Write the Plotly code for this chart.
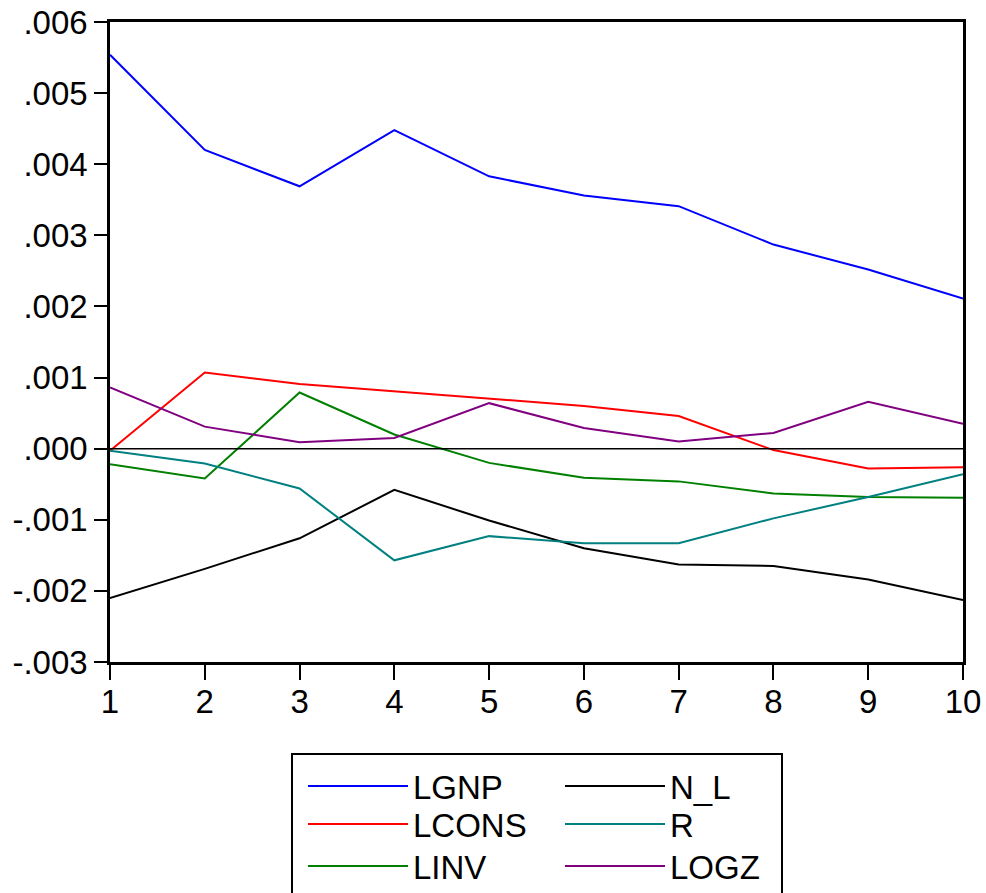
import plotly.graph_objects as go

periods = [1, 2, 3, 4, 5, 6, 7, 8, 9, 10]
LGNP = [0.00554, 0.00420, 0.00369, 0.00448, 0.00383, 0.00356, 0.00341, 0.00287, 0.00252, 0.00211]
LCONS = [-0.00003, 0.00107, 0.00091, 0.00081, 0.00070, 0.00060, 0.00046, -0.00002, -0.00028, -0.00026]
LINV = [-0.00022, -0.00042, 0.00079, 0.00020, -0.00020, -0.00041, -0.00046, -0.00063, -0.00068, -0.00069]
N_L = [-0.00210, -0.00169, -0.00126, -0.00058, -0.00101, -0.00140, -0.00163, -0.00165, -0.00184, -0.00213]
R = [-0.00003, -0.00021, -0.00056, -0.00157, -0.00123, -0.00133, -0.00133, -0.00098, -0.00068, -0.00036]
LOGZ = [0.00086, 0.00031, 0.00009, 0.00015, 0.00064, 0.00029, 0.00010, 0.00022, 0.00066, 0.00035]

y_ticks = [-0.003, -0.002, -0.001, 0.0, 0.001, 0.002, 0.003, 0.004, 0.005, 0.006]
y_tick_labels = ["-.003", "-.002", "-.001", ".000", ".001", ".002", ".003", ".004", ".005", ".006"]

series_names = ["LGNP", "LCONS", "LINV", "N_L", "R", "LOGZ"]
series_values = [LGNP, LCONS, LINV, N_L, R, LOGZ]
series_colors = ["#0000FF", "#FF0000", "#008000", "#000000", "#008080", "#800080"]

FONT = "Liberation Sans, Arial, sans-serif"
W, H = 986, 893
ML, MR, MT, MB = 110, 23, 22, 231
PW, PH = W - ML - MR, H - MT - MB

def px_to_paper_x(px):
    return (px - ML) / PW

def px_to_paper_y(py):
    return (H - MB - py) / PH

# legend layout: two columns of three rows each
col_x = [303, 560]
row_top = [758, 796, 838]

fig = go.Figure()
legend_defs = {}
for i, (name, vals, color) in enumerate(zip(series_names, series_values, series_colors)):
    leg_id = "legend" if i == 0 else f"legend{i + 1}"
    col, row = divmod(i, 3)
    fig.add_trace(go.Scatter(
        x=periods, y=vals, mode="lines", name=name,
        line=dict(color=color, width=2), legend=leg_id,
    ))
    legend_defs[leg_id] = dict(
        x=px_to_paper_x(col_x[col]), y=px_to_paper_y(row_top[row]),
        orientation="v", xanchor="left", yanchor="top",
        font=dict(family=FONT, size=33, color="black"),
        bgcolor="rgba(0,0,0,0)", borderwidth=0, itemwidth=100,
    )

fig.add_hline(y=0, line=dict(color="black", width=1.5))

# legend frame
fig.add_shape(type="rect", xref="paper", yref="paper",
              x0=px_to_paper_x(292), x1=px_to_paper_x(782),
              y0=px_to_paper_y(754), y1=px_to_paper_y(910),
              line=dict(color="black", width=2), fillcolor="rgba(0,0,0,0)")

fig.update_layout(
    width=W, height=H,
    margin=dict(l=ML, r=MR, t=MT, b=MB, autoexpand=False),
    paper_bgcolor="white", plot_bgcolor="white",
    font=dict(family=FONT, size=33, color="black"),
    showlegend=True,
    xaxis=dict(
        range=[1, 10], tickmode="array", tickvals=periods,
        ticktext=[str(p) for p in periods],
        ticks="outside", ticklen=15, tickwidth=2, tickcolor="black",
        showline=True, linewidth=2.5, linecolor="black", mirror=True,
        showgrid=False, zeroline=False, automargin=False,
        ticklabelstandoff=-6,
        tickfont=dict(family=FONT, size=33, color="black"),
    ),
    yaxis=dict(
        range=[-0.003, 0.006], tickmode="array", tickvals=y_ticks,
        ticktext=y_tick_labels,
        ticks="outside", ticklen=13, tickwidth=2, tickcolor="black",
        showline=True, linewidth=2.5, linecolor="black", mirror=True,
        showgrid=False, zeroline=False, automargin=False,
        tickfont=dict(family=FONT, size=33, color="black"),
    ),
)
fig.update_layout(**legend_defs)

fig.write_html(
    "out.html",
    config={"displayModeBar": False},
    post_script="document.body.style.margin='0';document.body.style.padding='0';",
)
